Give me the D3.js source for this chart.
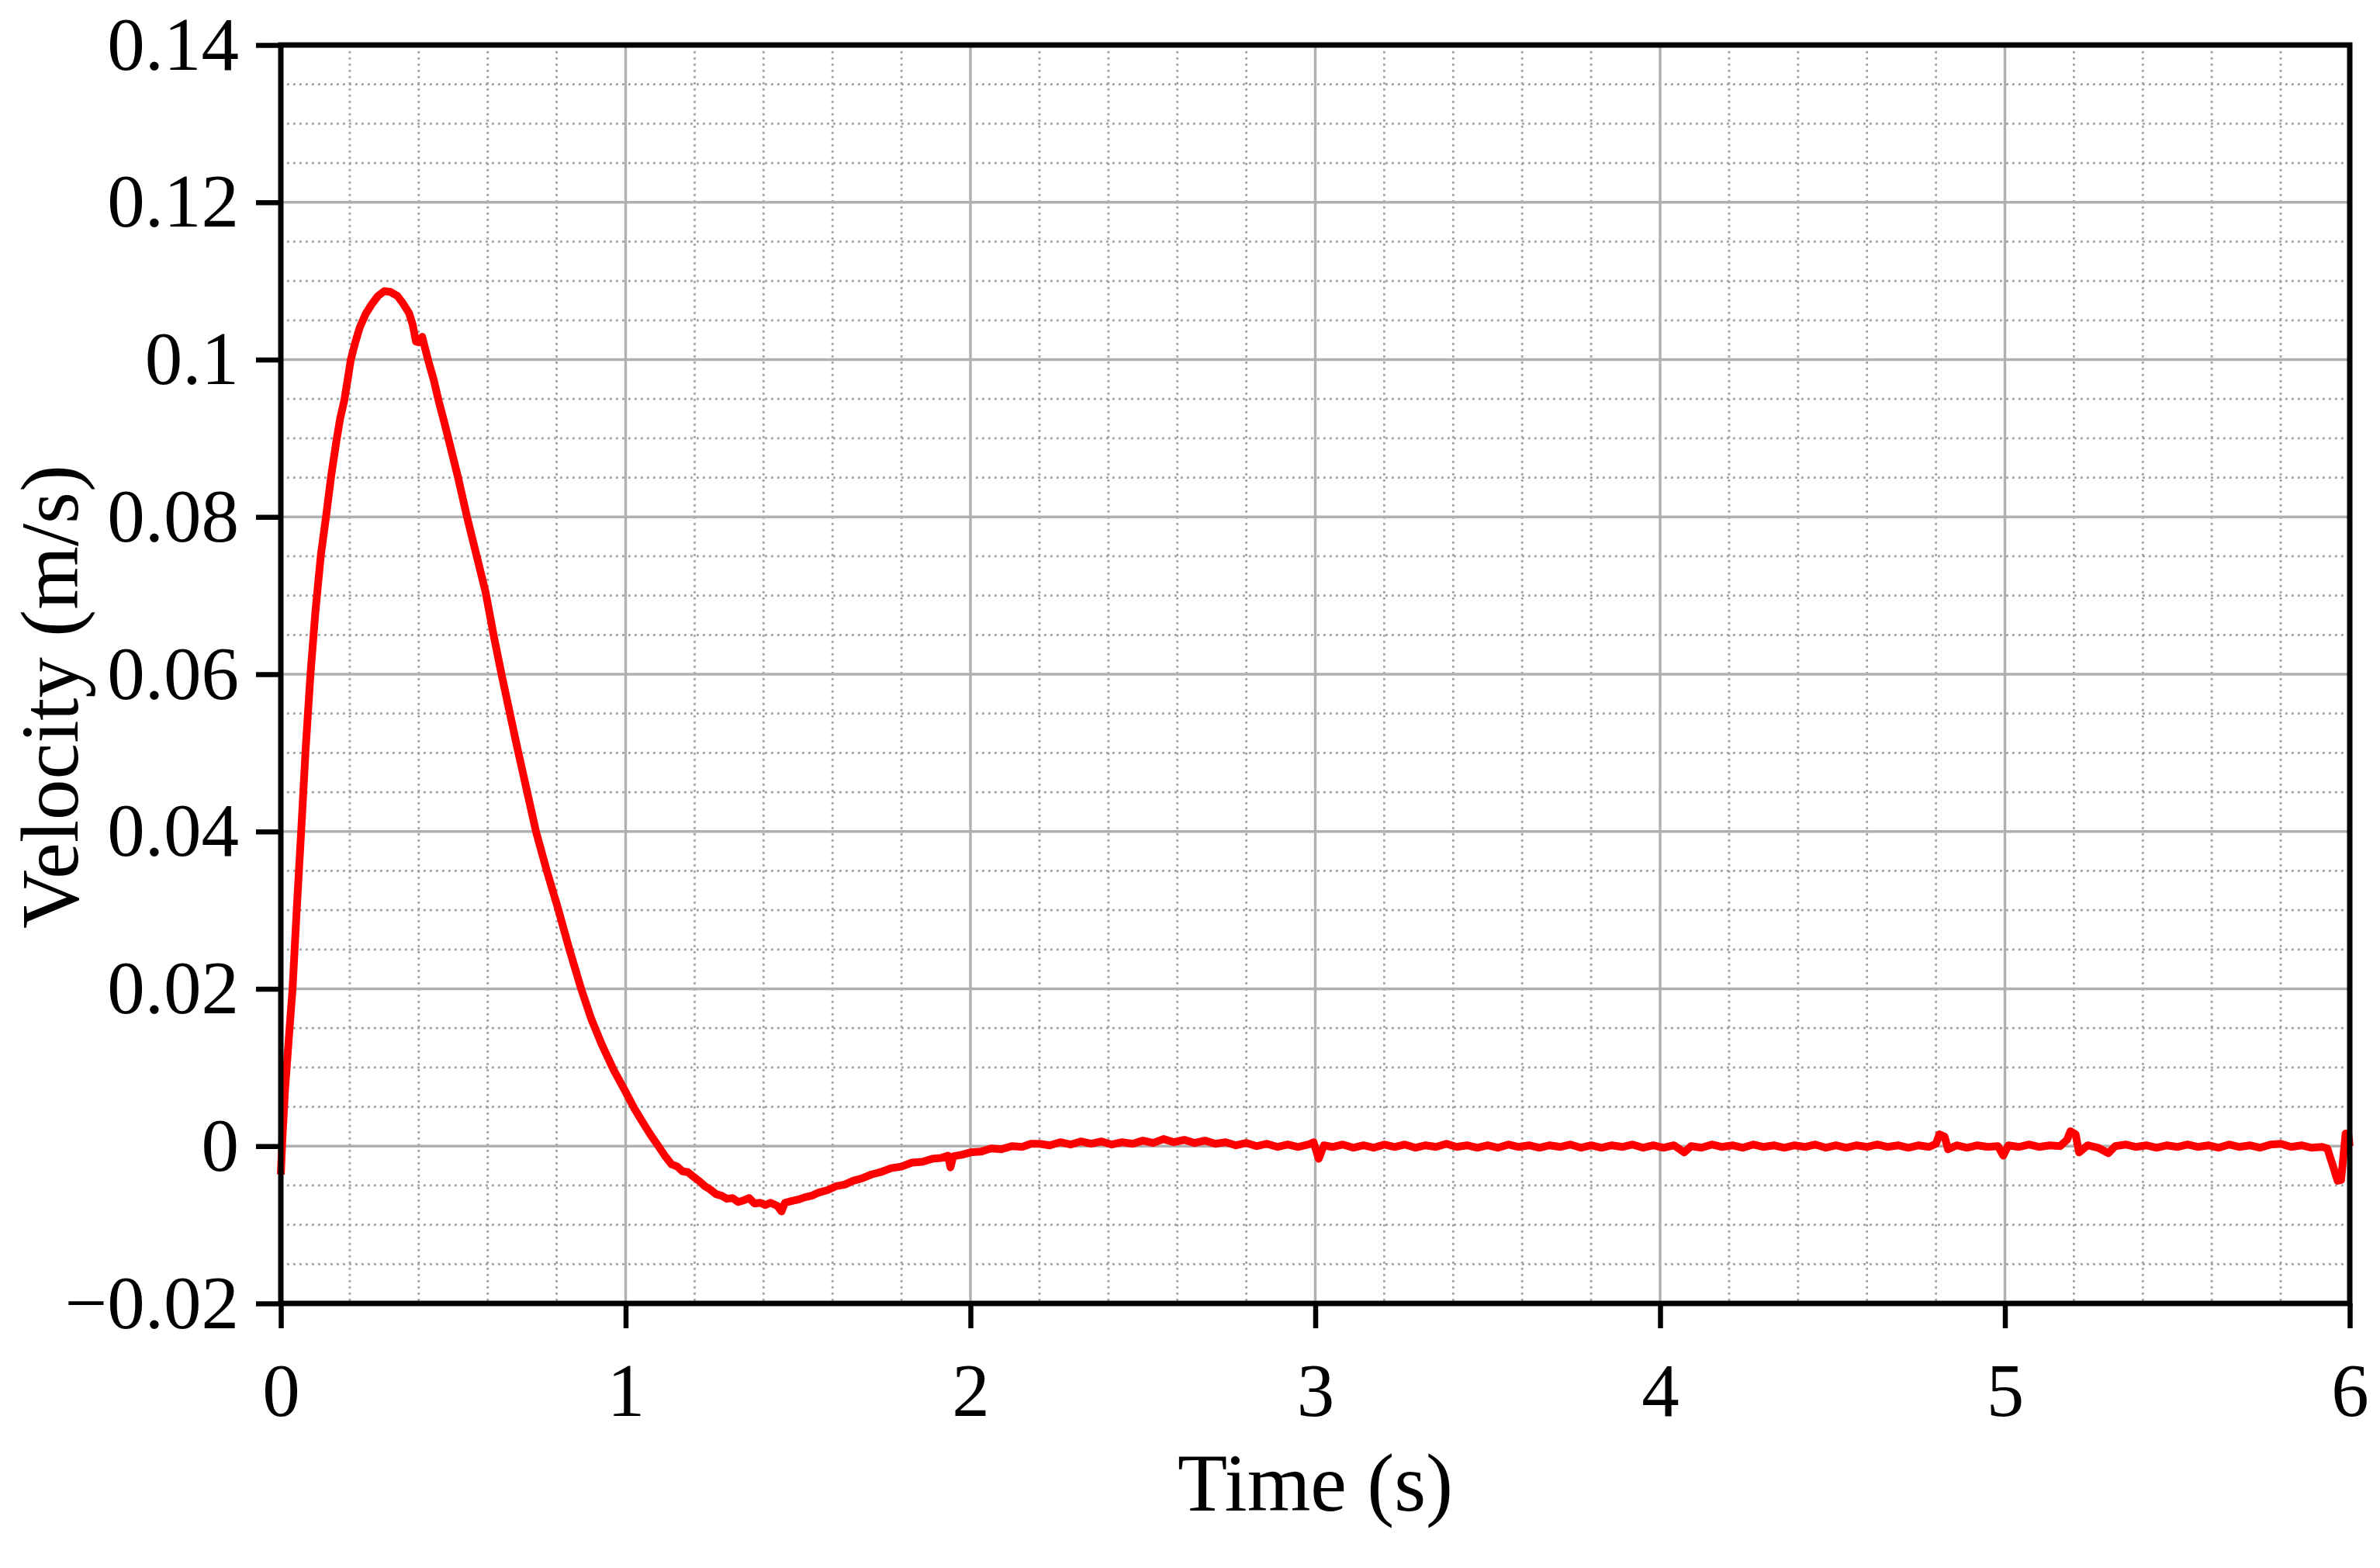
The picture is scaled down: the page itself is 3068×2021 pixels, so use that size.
<!DOCTYPE html>
<html>
<head>
<meta charset="utf-8">
<script src="https://cdn.jsdelivr.net/npm/d3@7"></script>
<style>
  html, body { margin: 0; padding: 0; background: #fff; }
  svg { display: block; }
  text { font-family: "Liberation Serif", "Times New Roman", serif; fill: #000; }
</style>
</head>
<body>
<svg id="chart" width="3068" height="2021"></svg>
<script>
// ---- Data ----
const xTicks = [0, 1, 2, 3, 4, 5, 6];
const yTicks = [-0.02, 0, 0.02, 0.04, 0.06, 0.08, 0.1, 0.12, 0.14];
const xMinorTicks = [0.2,0.4,0.6,0.8,1.2,1.4,1.6,1.8,2.2,2.4,2.6,2.8,3.2,3.4,3.6,3.8,4.2,4.4,4.6,4.8,5.2,5.4,5.6,5.8];
const yMinorTicks = [-0.015,-0.01,-0.005,0.005,0.01,0.015,0.025,0.03,0.035,0.045,0.05,0.055,0.065,0.07,0.075,0.085,0.09,0.095,0.105,0.11,0.115,0.125,0.13,0.135];
const xTickLabels = ["0", "1", "2", "3", "4", "5", "6"];
const yTickLabels = ["\u22120.02", "0", "0.02", "0.04", "0.06", "0.08", "0.1", "0.12", "0.14"];
const xTitle = "Time (s)";
const yTitle = "Velocity (m/s)";

const time = [
  0, 0.004, 0.012, 0.022, 0.034, 0.046, 0.059, 0.072, 0.086, 0.1,
  0.116, 0.131, 0.146, 0.161, 0.172, 0.184, 0.194, 0.203, 0.216, 0.229,
  0.246, 0.263, 0.282, 0.3, 0.318, 0.338, 0.355, 0.372, 0.382, 0.392,
  0.4, 0.41, 0.418, 0.428, 0.443, 0.458, 0.473, 0.488, 0.514, 0.54,
  0.567, 0.594, 0.617, 0.64, 0.662, 0.684, 0.712, 0.74, 0.772, 0.804,
  0.837, 0.871, 0.9, 0.931, 0.965, 1.0, 1.025, 1.05, 1.073, 1.095,
  1.115, 1.133, 1.15, 1.165, 1.18, 1.197, 1.215, 1.23, 1.245, 1.262,
  1.278, 1.294, 1.31, 1.326, 1.342, 1.358, 1.374, 1.39, 1.405, 1.42,
  1.44, 1.452, 1.462, 1.48, 1.5, 1.52, 1.54, 1.56, 1.585, 1.61,
  1.635, 1.66, 1.685, 1.713, 1.74, 1.77, 1.8, 1.83, 1.86, 1.89,
  1.915, 1.935, 1.942, 1.95, 1.975, 2.0, 2.03, 2.06, 2.09, 2.12,
  2.15, 2.175, 2.2, 2.23, 2.26, 2.29, 2.32, 2.35, 2.38, 2.41,
  2.44, 2.47, 2.5, 2.53, 2.56, 2.59, 2.62, 2.65, 2.68, 2.71,
  2.74, 2.77, 2.8, 2.83, 2.86, 2.89, 2.92, 2.95, 2.98, 2.995,
  3.01, 3.025, 3.05, 3.08, 3.11, 3.14, 3.17, 3.2, 3.23, 3.26,
  3.29, 3.32, 3.35, 3.38, 3.41, 3.44, 3.47, 3.5, 3.53, 3.56,
  3.59, 3.62, 3.65, 3.68, 3.71, 3.74, 3.77, 3.8, 3.83, 3.86,
  3.89, 3.92, 3.95, 3.98, 4.01, 4.04, 4.07, 4.09, 4.12, 4.15,
  4.18, 4.21, 4.24, 4.27, 4.3, 4.33, 4.36, 4.39, 4.42, 4.45,
  4.48, 4.51, 4.54, 4.57, 4.6, 4.63, 4.66, 4.69, 4.72, 4.75,
  4.78, 4.8, 4.81, 4.825, 4.835, 4.86, 4.89, 4.92, 4.95, 4.98,
  4.995, 5.01, 5.04, 5.07, 5.1, 5.13, 5.16, 5.18, 5.19, 5.205,
  5.215, 5.24, 5.27, 5.3, 5.32, 5.35, 5.38, 5.41, 5.44, 5.47,
  5.5, 5.53, 5.56, 5.59, 5.62, 5.65, 5.68, 5.71, 5.74, 5.77,
  5.8, 5.83, 5.86, 5.89, 5.92, 5.935, 5.965, 5.975, 5.988, 5.996,
  6.0
];
const velocity = [
  -0.0036, 0.0005, 0.007, 0.013, 0.02, 0.03, 0.04, 0.0505, 0.06, 0.0678,
  0.0751, 0.08, 0.0852, 0.0896, 0.0925, 0.0948, 0.0975, 0.1, 0.1022, 0.1041,
  0.1058, 0.107, 0.1081, 0.1087, 0.1086, 0.1081, 0.1071, 0.1059, 0.1045, 0.1023,
  0.1022, 0.1029, 0.1015, 0.0998, 0.0975, 0.0947, 0.0922, 0.0896, 0.085, 0.08,
  0.0752, 0.0704, 0.065, 0.06, 0.0555, 0.051, 0.0455, 0.04, 0.0349, 0.0302,
  0.025, 0.02, 0.0162, 0.0129, 0.0097, 0.0069, 0.0048, 0.003, 0.0014, 0.0,
  -0.0013, -0.0023, -0.0026, -0.0032, -0.0033, -0.0039, -0.0045, -0.0051, -0.0055, -0.0061,
  -0.0063, -0.0067, -0.0066, -0.0071, -0.0069, -0.0066, -0.0073, -0.0072, -0.0075, -0.0072,
  -0.0076, -0.0083, -0.0072, -0.007, -0.0068, -0.0065, -0.0063, -0.0059, -0.0056, -0.0051,
  -0.0049, -0.0044, -0.0041, -0.0036, -0.0033, -0.0028, -0.0026, -0.0021, -0.002, -0.0016,
  -0.0015, -0.0012, -0.0027, -0.0013, -0.0011, -0.0008, -0.0007, -0.0003, -0.0004, 0.0,
  -0.0001, 0.0003, 0.0003, 0.0001, 0.0005, 0.0002, 0.0006, 0.0003, 0.0006, 0.0002,
  0.0005, 0.0003, 0.0007, 0.0004, 0.0009, 0.0005, 0.0008, 0.0004, 0.0007, 0.0003,
  0.0005, 0.0001, 0.0004, 0.0, 0.0003, -0.0001, 0.0002, -0.0001, 0.0002, 0.0005,
  -0.0016, 0.0001, -0.0001, 0.0002, -0.0002, 0.0001, -0.0002, 0.0002, -0.0001, 0.0002,
  -0.0002, 0.0001, -0.0001, 0.0003, -0.0001, 0.0001, -0.0002, 0.0001, -0.0002, 0.0002,
  -0.0001, 0.0001, -0.0002, 0.0001, -0.0001, 0.0002, -0.0002, 0.0001, -0.0002, 0.0001,
  -0.0001, 0.0002, -0.0002, 0.0001, -0.0002, 0.0001, -0.0008, 0.0, -0.0002, 0.0002,
  -0.0001, 0.0001, -0.0002, 0.0002, -0.0001, 0.0001, -0.0002, 0.0001, -0.0001, 0.0002,
  -0.0002, 0.0001, -0.0002, 0.0001, -0.0001, 0.0002, -0.0001, 0.0001, -0.0002, 0.0001,
  -0.0001, 0.0003, 0.0015, 0.0012, -0.0004, 0.0001, -0.0002, 0.0001, -0.0001, 0.0,
  -0.0012, 0.0001, -0.0001, 0.0002, -0.0001, 0.0001, 0.0, 0.0008, 0.0019, 0.0015,
  -0.0008, 0.0001, -0.0002, -0.0009, 0.0, 0.0002, -0.0001, 0.0001, -0.0002, 0.0001,
  -0.0001, 0.0002, -0.0001, 0.0001, -0.0002, 0.0002, -0.0001, 0.0001, -0.0002, 0.0002,
  0.0003, -0.0001, 0.0001, -0.0002, -0.0001, -0.0003, -0.0044, -0.0043, 0.0016, 0.0015,
  0.0
];

// ---- Layout ----
const svg = d3.select("#chart");
const plotLeft = 362, plotRight = 3029, plotTop = 58, plotBottom = 1680;
const x = d3.scaleLinear().domain([0, 6]).range([plotLeft, plotRight]);
const y = d3.scaleLinear().domain([-0.02, 0.14]).range([plotBottom, plotTop]);

// Minor grid (dotted)
const minor = svg.append("g").attr("class", "minor-grid")
  .attr("stroke", "#a0a0a0").attr("stroke-width", 2.8).attr("stroke-dasharray", "2.8,5.2");
minor.selectAll("line.vx").data(xMinorTicks).enter().append("line")
  .attr("x1", d => x(d)).attr("x2", d => x(d)).attr("y1", plotTop).attr("y2", plotBottom);
minor.selectAll("line.hy").data(yMinorTicks).enter().append("line")
  .attr("y1", d => y(d)).attr("y2", d => y(d)).attr("x1", plotLeft).attr("x2", plotRight);

// Major grid (solid)
const major = svg.append("g").attr("class", "major-grid")
  .attr("stroke", "#b0b0b0").attr("stroke-width", 3.4);
major.selectAll("line.vx").data(xTicks.slice(1, -1)).enter().append("line")
  .attr("x1", d => x(d)).attr("x2", d => x(d)).attr("y1", plotTop).attr("y2", plotBottom);
major.selectAll("line.hy").data(yTicks.slice(1, -1)).enter().append("line")
  .attr("y1", d => y(d)).attr("y2", d => y(d)).attr("x1", plotLeft).attr("x2", plotRight);

// Data line
const pts = time.map((t, i) => [t, velocity[i]]);
const lineGen = d3.line().x(d => x(d[0])).y(d => y(d[1]));
svg.append("path").datum(pts)
  .attr("d", lineGen)
  .attr("fill", "none")
  .attr("stroke", "#ff0000")
  .attr("stroke-width", 10)
  .attr("stroke-linejoin", "round")
  .attr("stroke-linecap", "butt");

// Frame
svg.append("rect")
  .attr("x", plotLeft).attr("y", plotTop)
  .attr("width", plotRight - plotLeft).attr("height", plotBottom - plotTop)
  .attr("fill", "none").attr("stroke", "#000").attr("stroke-width", 7);

// Axes (major ticks outward)
const xAxis = d3.axisBottom(x).tickValues(xTicks)
  .tickFormat((d, i) => xTickLabels[i]).tickSize(32).tickPadding(44);
const gx = svg.append("g").attr("transform", `translate(0,${plotBottom})`).call(xAxis);
gx.select(".domain").remove();
gx.selectAll(".tick line").attr("stroke", "#000").attr("stroke-width", 6.5);
gx.selectAll(".tick text")
  .attr("font-family", '"Liberation Serif", "Times New Roman", serif')
  .attr("font-size", 97).attr("fill", "#000");

const yAxis = d3.axisLeft(y).tickValues(yTicks)
  .tickFormat((d, i) => yTickLabels[i]).tickSize(32).tickPadding(22);
const gy = svg.append("g").attr("transform", `translate(${plotLeft},0)`).call(yAxis);
gy.select(".domain").remove();
gy.selectAll(".tick line").attr("stroke", "#000").attr("stroke-width", 6.5);
gy.selectAll(".tick text")
  .attr("font-family", '"Liberation Serif", "Times New Roman", serif')
  .attr("font-size", 97).attr("fill", "#000");

// Axis titles
svg.append("text")
  .attr("x", (plotLeft + plotRight) / 2).attr("y", 1947)
  .attr("text-anchor", "middle")
  .attr("font-size", 105)
  .text(xTitle);

svg.append("text")
  .attr("transform", "translate(100,898) rotate(-90)")
  .attr("text-anchor", "middle")
  .attr("font-size", 105)
  .text(yTitle);
</script>
</body>
</html>
